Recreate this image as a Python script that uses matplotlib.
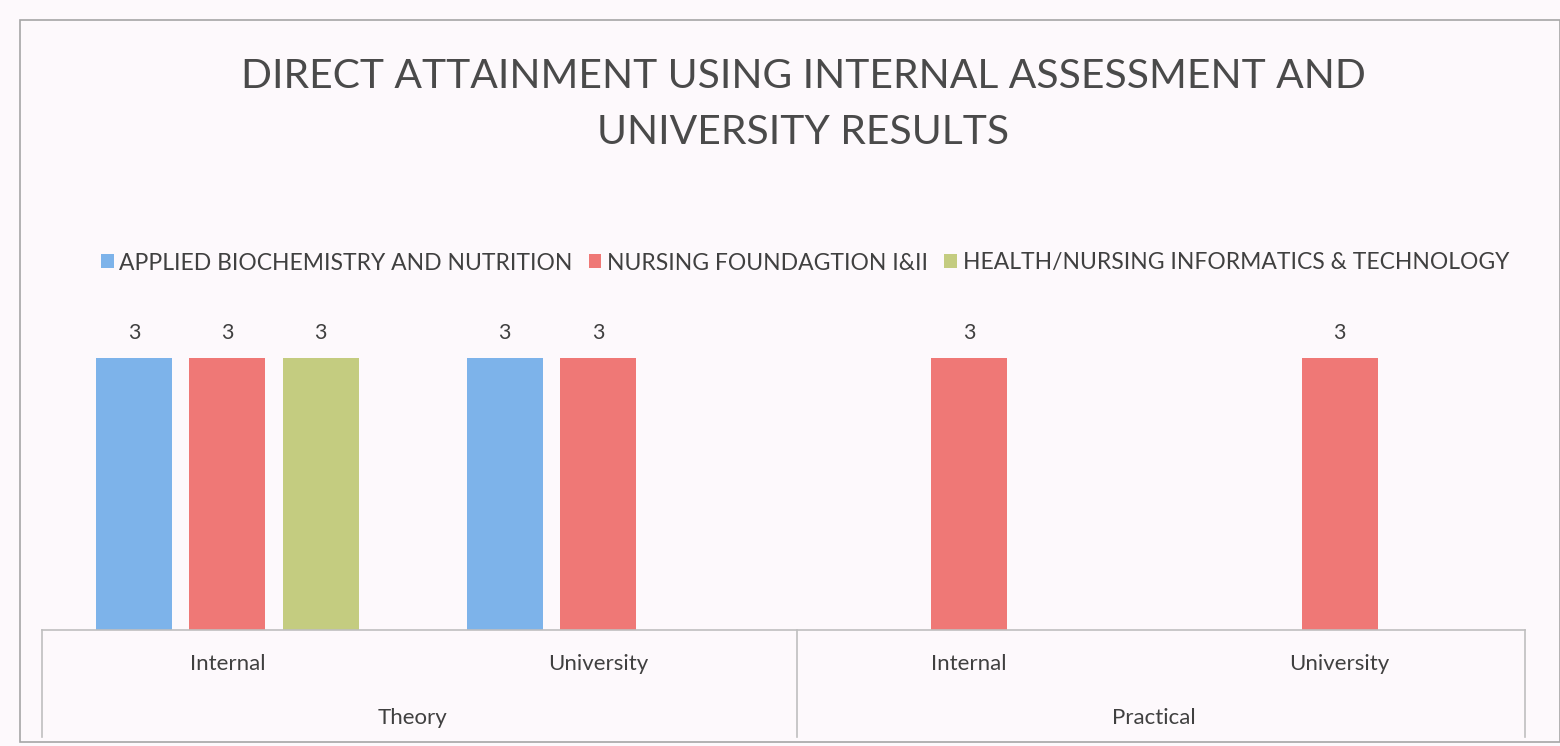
import numpy as np
import matplotlib
matplotlib.use("Agg")
import matplotlib.pyplot as plt
from matplotlib.patches import Rectangle, Patch
from matplotlib.lines import Line2D

plt.rcParams['font.family'] = ['Lato', 'DejaVu Sans']

# data
groups = ["Theory", "Practical"]
sub_labels = ["Internal", "University", "Internal", "University"]
series = ["APPLIED BIOCHEMISTRY AND NUTRITION",
          "NURSING FOUNDAGTION I&II",
          "HEALTH/NURSING INFORMATICS & TECHNOLOGY"]
biochem = [3, 3, np.nan, np.nan]
nursing = [3, 3, 3, 3]
health = [3, np.nan, np.nan, np.nan]
colors = ["#7db3ea", "#ef7876", "#c4cc80"]

W, H = 1560, 746
fig = plt.figure(figsize=(W / 100, H / 100), dpi=100, facecolor="#fdf9fc")

def fx(px):
    return px / W

def fy(py):
    return 1 - py / H

ax_l, ax_r, ax_base, ax_top = 42, 1525, 630, 313
ax = fig.add_axes([fx(ax_l), fy(ax_base), fx(ax_r - ax_l), fy(ax_top) - fy(ax_base)])
ax.set_facecolor("none")

x = np.arange(len(sub_labels))
width = 0.205
offsets = [-0.252, 0, 0.252]
for vals, off, col in zip([biochem, nursing, health], offsets, colors):
    vals = np.array(vals, dtype=float)
    ax.bar(x + off, vals, width, color=col)
    for xi, v in zip(x, vals):
        if not np.isnan(v):
            ax.annotate(f"{v:g}", (xi + off, v), xytext=(0, 11), textcoords="offset points",
                        ha="center", va="bottom", fontsize=15.5, color="#404040")

ax.set_xlim(-0.5, 3.5)
ax.set_ylim(0, 3.5)
ax.set_xticks([])
ax.set_yticks([])
for s in ["top", "right", "left"]:
    ax.spines[s].set_visible(False)
ax.spines["bottom"].set_color("#bfbfbf")
ax.spines["bottom"].set_linewidth(1.2)

# multi-level category axis
line_col = "#bfbfbf"
for px in [ax_l, 797, ax_r]:
    fig.add_artist(Line2D([fx(px), fx(px)], [fy(ax_base), fy(737)], color=line_col, lw=1.2))
sub_w = (ax_r - ax_l) / 4
for i, lab in enumerate(sub_labels):
    fig.text(fx(ax_l + sub_w * (i + 0.5)), fy(664), lab, ha="center", va="center",
             fontsize=16, color="#404040")
for i, lab in enumerate(groups):
    fig.text(fx(ax_l + sub_w * (2 * i + 1)), fy(718), lab, ha="center", va="center",
             fontsize=16, color="#404040")

# title
fig.text(fx(803), fy(77), "DIRECT ATTAINMENT USING INTERNAL ASSESSMENT AND",
         ha="center", va="center", fontsize=29.3, color="#4a4a4a")
fig.text(fx(803), fy(133), "UNIVERSITY RESULTS",
         ha="center", va="center", fontsize=29.3, color="#4a4a4a")

# legend
handles = [Patch(facecolor=c, edgecolor="none") for c in colors]
fig.legend(handles, series, loc="center", bbox_to_anchor=(fx(805), fy(263)), ncol=3,
           frameon=False, fontsize=16.5, handlelength=0.55, handleheight=0.55,
           handletextpad=0.25, columnspacing=0.7, labelcolor="#404040")

# chart frame
fig.add_artist(Rectangle((fx(20), fy(742)), fx(1540), fy(20) - fy(742), transform=fig.transFigure,
                         fill=False, edgecolor="#a6a6a6", lw=1.2))

fig.savefig("out.png", dpi=100, facecolor=fig.get_facecolor())
